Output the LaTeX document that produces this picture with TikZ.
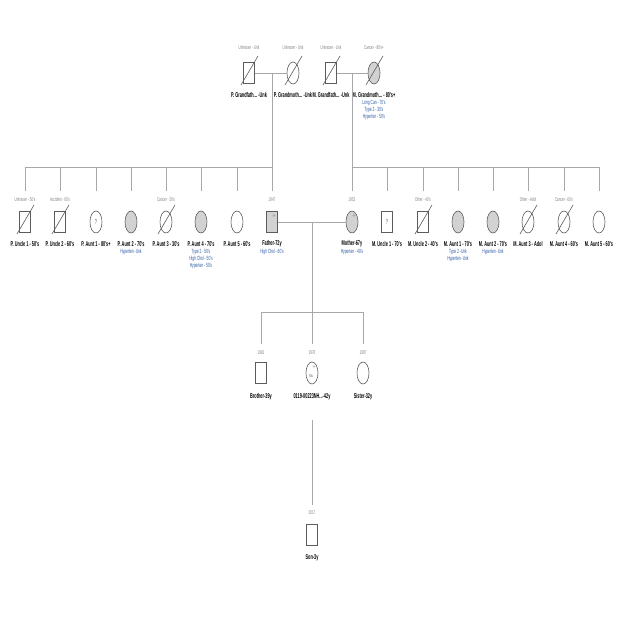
\documentclass[tikz,border=0pt]{standalone}
\usepackage{fontspec}
\setmainfont{Liberation Sans}
\newfontfamily\narrowsf[FakeStretch=0.55]{Liberation Sans}
\usetikzlibrary{shapes.geometric}
\definecolor{linegrey}{HTML}{A8A8A8}
\definecolor{edgegrey}{HTML}{5C5C5C}
\definecolor{fillgrey}{HTML}{D2D2D2}
\definecolor{notegrey}{HTML}{7E7E7E}
\definecolor{condblue}{HTML}{2C5AA6}
\tikzset{
  link/.style={draw=linegrey, line width=0.6pt},
  male/.style={rectangle, draw=edgegrey, line width=0.6pt, minimum width=11pt, minimum height=21pt, inner sep=0pt, fill=white},
  female/.style={ellipse, draw=edgegrey, line width=0.6pt, minimum width=12pt, minimum height=22pt, inner sep=0pt, fill=white},
  affected/.style={fill=fillgrey},
  deceased/.style={draw=edgegrey, line width=0.6pt},
  pname/.style={font=\narrowsf\bfseries\fontsize{7}{8}\selectfont, text=black, inner sep=0pt},
  pnote/.style={font=\narrowsf\fontsize{5.5}{6.5}\selectfont, text=notegrey, inner sep=0pt},
  pcond/.style={font=\narrowsf\fontsize{6}{7}\selectfont, text=condblue, inner sep=0pt, align=center, anchor=north},
  ptag/.style={font=\narrowsf\fontsize{4.5}{5}\selectfont, text=edgegrey, inner sep=0pt},
  pq/.style={font=\narrowsf\fontsize{7}{8}\selectfont, text=edgegrey, inner sep=0pt},
}
\newcommand\crossout[1]{\draw[deceased] (#1) ++(-8,12) -- ++(17,-29);}
\begin{document}
\begin{tikzpicture}[x=1pt,y=-1pt]
\useasboundingbox (0,0) rectangle (640,640);

% ---------- grandparents ----------
\node[male]             (pgf) at (249,73) {};
\node[female]           (pgm) at (293,73) {};
\node[male]             (mgf) at (331,73) {};
\node[female,affected]  (mgm) at (374,73) {};
\crossout{pgf}\crossout{pgm}\crossout{mgf}\crossout{mgm}
\node[pnote] (pgf-t) at (249,48) {Unknown - Unk};
\node[pnote] (pgm-t) at (293,48) {Unknown - Unk};
\node[pnote] (mgf-t) at (331,48) {Unknown - Unk};
\node[pnote] (mgm-t) at (374,48) {Cancer - 80's+};
\node[pname] (pgf-n) at (249,95) {P. Grandfath... -Unk};
\node[pname] (pgm-n) at (293,95) {P. Grandmoth... -Unk};
\node[pname] (mgf-n) at (331,95) {M. Grandfath... -Unk};
\node[pname] (mgm-n) at (374,95) {M. Grandmoth... - 80's+};
\node[pcond] (mgm-c) at (374,100) {Long Can - 70's\\Type 2 - 30's\\Hyperten - 50's};

% ---------- paternal siblings ----------
\node[male]            (pu1) at (25,222) {};
\node[male]            (pu2) at (60,222) {};
\node[female]          (pa1) at (96,222) {};
\node[female,affected] (pa2) at (131,222) {};
\node[female]          (pa3) at (166,222) {};
\node[female,affected] (pa4) at (201,222) {};
\node[female]          (pa5) at (237,222) {};
\node[male,affected]   (fa)  at (272,222) {};
\crossout{pu1}\crossout{pu2}\crossout{pa3}
\node[pq] (pa1-q) at (pa1) {?};
\node[ptag] (fa-g) at (274,216) {-/+};
\node[pnote] (pu1-t) at (25,200) {Unknown - 50's};
\node[pnote] (pu2-t) at (60,200) {Accident - 60's};
\node[pnote] (pa3-t) at (166,200) {Cancer - 30's};
\node[pnote] (fa-t)  at (272,200) {1947};
\node[pname] (pu1-n) at (25,244) {P. Uncle 1 - 50's};
\node[pname] (pu2-n) at (60,244) {P. Uncle 2 - 60's};
\node[pname] (pa1-n) at (96,244) {P. Aunt 1 - 80's+};
\node[pname] (pa2-n) at (131,244) {P. Aunt 2 - 70's};
\node[pname] (pa3-n) at (166,244) {P. Aunt 3 - 30's};
\node[pname] (pa4-n) at (201,244) {P. Aunt 4 - 70's};
\node[pname] (pa5-n) at (237,244) {P. Aunt 5 - 60's};
\node[pname] (fa-n)  at (272,244) {Father-72y};
\node[pcond] (pa2-c) at (131,249) {Hyperten -Unk};
\node[pcond] (pa4-c) at (201,249) {Type 2 - 50's\\High Chol - 50's\\Hyperten - 50's};
\node[pcond] (fa-c)  at (272,249) {High Chol - 60's};

% ---------- maternal siblings ----------
\node[female,affected] (mo)  at (352,222) {};
\node[male]            (mu1) at (387,222) {};
\node[male]            (mu2) at (423,222) {};
\node[female,affected] (ma1) at (458,222) {};
\node[female,affected] (ma2) at (493,222) {};
\node[female]          (ma3) at (528,222) {};
\node[female]          (ma4) at (564,222) {};
\node[female]          (ma5) at (599,222) {};
\crossout{mu2}\crossout{ma3}\crossout{ma4}
\node[pq] (mu1-q) at (mu1) {?};
\node[ptag] (mo-g) at (354,216) {-/+};
\node[pnote] (mo-t)  at (352,200) {1952};
\node[pnote] (mu2-t) at (423,200) {Other - 40's};
\node[pnote] (ma3-t) at (528,200) {Other - Adol};
\node[pnote] (ma4-t) at (564,200) {Cancer - 60's};
\node[pname] (mo-n)  at (352,244) {Mother-67y};
\node[pname] (mu1-n) at (387,244) {M. Uncle 1 - 70's};
\node[pname] (mu2-n) at (423,244) {M. Uncle 2 - 40's};
\node[pname] (ma1-n) at (458,244) {M. Aunt 1 - 70's};
\node[pname] (ma2-n) at (493,244) {M. Aunt 2 - 70's};
\node[pname] (ma3-n) at (528,244) {M. Aunt 3 - Adol};
\node[pname] (ma4-n) at (564,244) {M. Aunt 4 - 60's};
\node[pname] (ma5-n) at (599,244) {M. Aunt 5 - 60's};
\node[pcond] (mo-c)  at (352,249) {Hyperten - 40's};
\node[pcond] (ma1-c) at (458,249) {Type 2 -Unk\\Hyperten -Unk};
\node[pcond] (ma2-c) at (493,249) {Hyperten -Unk};

% ---------- children ----------
\node[male]   (br) at (261,373) {};
\node[female] (pr) at (312,373) {};
\node[female] (si) at (363,373) {};
\node[ptag] (pr-g) at (314,367) {-/+};
\node[ptag] (pr-y) at (311,376) {You};
\node[pnote] (br-t) at (261,353) {1981};
\node[pnote] (pr-t) at (312,353) {1976};
\node[pnote] (si-t) at (363,353) {1987};
\node[pname] (br-n) at (261,397) {Brother-39y};
\node[pname] (pr-n) at (312,397) {0119-00223NH...-42y};
\node[pname] (si-n) at (363,397) {Sister-32y};

% ---------- grandchild ----------
\node[male] (so) at (312,535) {};
\node[pnote] (so-t) at (312,513) {2017};
\node[pname] (so-n) at (312,558) {Son-3y};

% ---------- junction points ----------
\coordinate (pcpl) at (272,73);
\coordinate (mcpl) at (352,73);
\coordinate (pbarL) at (25,167);
\coordinate (pbarR) at (272,167);
\coordinate (mbarL) at (352,167);
\coordinate (mbarR) at (599,167);
\coordinate (sibend) at (0,191);
\coordinate (fmcpl) at (312,222);
\coordinate (cbar) at (312,312);
\coordinate (cbarL) at (261,312);
\coordinate (cbarR) at (363,312);
\coordinate (kidend) at (0,344);
\coordinate (prline) at (312,420);
\coordinate (soline) at (312,505);

% ---------- connectors ----------
\draw[link] (pgf.east) -- (pgm.west);
\draw[link] (mgf.east) -- (mgm.west);
\draw[link] (pcpl) -- (pbarR);
\draw[link] (mcpl) -- (mbarL);
\draw[link] (pbarL) -- (pbarR);
\draw[link] (mbarL) -- (mbarR);
\foreach \p in {pu1,pu2,pa1,pa2,pa3,pa4,pa5,fa,mo,mu1,mu2,ma1,ma2,ma3,ma4,ma5}{
  \draw[link] (\p |- pbarL) -- (\p |- sibend);
}
\draw[link] (fa.east) -- (mo.west);
\draw[link] (fmcpl) -- (cbar);
\draw[link] (cbarL) -- (cbarR);
\foreach \p in {br,pr,si}{
  \draw[link] (\p |- cbarL) -- (\p |- kidend);
}
\draw[link] (prline) -- (soline);
\end{tikzpicture}
\end{document}
